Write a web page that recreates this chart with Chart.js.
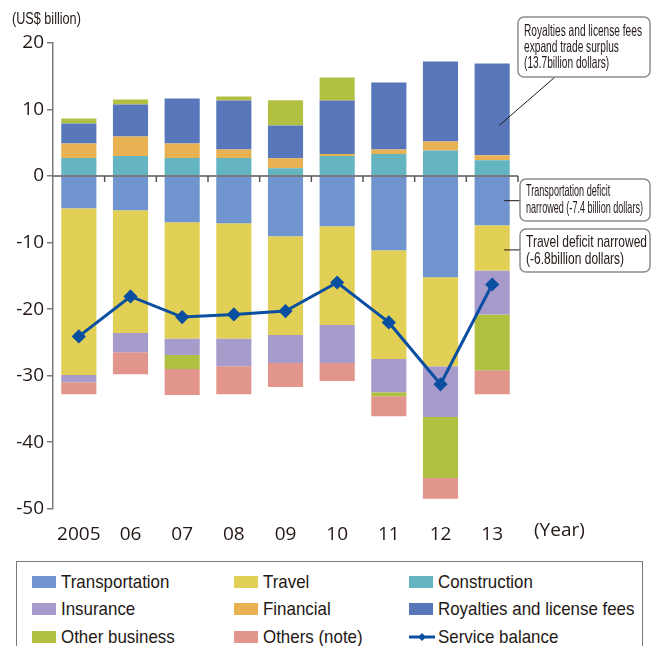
<!DOCTYPE html>
<html>
<head>
<meta charset="utf-8">
<script src="https://cdn.jsdelivr.net/npm/chart.js@4.4.0/dist/chart.umd.min.js"></script>
<style>
  body { margin: 0; background: #fff; }
  #wrap { position: relative; width: 654px; height: 646px; overflow: hidden; }
  #chart { position: absolute; left: 0; top: 0; }
  #legend {
    position: absolute; left: 16px; top: 561px; width: 627px; height: 100px;
    border: 1px solid #7a7a7a; box-sizing: border-box;
    font-family: 'Liberation Sans', sans-serif;
    font-size: 19px; color: #231815;
  }
  .item { position: absolute; display: flex; align-items: center; height: 20px; white-space: nowrap; }
  .sw { width: 24px; height: 12px; margin-right: 5px; flex: none; }
  .txt { display: inline-block; transform: scaleX(0.89); transform-origin: left center; }
</style>
</head>
<body>
<div id="wrap">
  <canvas id="chart" width="654" height="556"></canvas>
  <div id="legend"></div>
</div>
<script>
// values in US$ billion
const years = ['2005', '06', '07', '08', '09', '10', '11', '12', '13'];
const transportation = [-4.85, -5.15, -6.95, -7.1, -9.05, -7.55, -11.15, -15.2, -7.4];
const travel = [-25.05, -18.45, -17.45, -17.3, -14.85, -14.85, -16.35, -13.4, -6.8];
const construction = [2.7, 3.0, 2.7, 2.7, 1.16, 3.0, 3.3, 3.86, 2.36];
const insurance = [-1.1, -2.9, -2.5, -4.2, -4.2, -5.7, -5.0, -7.6, -6.6];
const financial = [2.2, 2.96, 2.2, 1.3, 1.5, 0.3, 0.7, 1.35, 0.75];
const royalties = [3.0, 4.8, 6.77, 7.37, 4.95, 8.07, 10.07, 12.0, 13.8];
const otherBusiness = [0.75, 0.75, -2.1, 0.6, 3.77, 3.45, -0.6, -9.2, -8.4];
const others = [-1.8, -3.3, -3.9, -4.2, -3.6, -2.7, -3.0, -3.1, -3.6];
const serviceBalance = [-24.1, -18.1, -21.2, -20.8, -20.3, -16.0, -22.0, -31.3, -16.3];

const colors = {
  transportation: '#7094cd',
  travel: '#e2cf55',
  construction: '#64b5c1',
  insurance: '#a79bcb',
  financial: '#e8b252',
  royalties: '#5877bb',
  otherBusiness: '#b2c042',
  others: '#e2958a',
  balance: '#0b4fa0'
};

const textFont = "'Liberation Sans', sans-serif";
const tickFont = "'Open Sans', sans-serif";

function bar(label, data, color) {
  return { type: 'bar', label, data, backgroundColor: color, order: 1, stack: 'services' };
}

const datasets = [
  bar('Transportation', transportation, colors.transportation),
  bar('Travel', travel, colors.travel),
  bar('Construction', construction, colors.construction),
  bar('Insurance', insurance, colors.insurance),
  bar('Financial', financial, colors.financial),
  bar('Royalties and license fees', royalties, colors.royalties),
  bar('Other business', otherBusiness, colors.otherBusiness),
  bar('Others (note)', others, colors.others),
  {
    type: 'line', label: 'Service balance', data: serviceBalance, stack: 'balance', order: 0,
    borderColor: colors.balance, backgroundColor: colors.balance, borderWidth: 3,
    pointStyle: 'rectRot', pointRadius: 5, pointHoverRadius: 5, tension: 0
  }
];

// condensed text: squeeze horizontally
function narrowText(ctx, text, x, y, sx) {
  ctx.save();
  ctx.translate(x, y);
  ctx.scale(sx, 1);
  ctx.fillText(text, 0, 0);
  ctx.restore();
}

// axis at zero, labels and callout boxes
const decor = {
  id: 'decor',
  afterDatasetsDraw(chart) {
    const { ctx, chartArea, scales: { x, y } } = chart;
    const y0 = y.getPixelForValue(0);
    ctx.save();
    ctx.strokeStyle = '#595757';
    ctx.lineWidth = 1.5;
    ctx.beginPath();
    ctx.moveTo(chartArea.left, y0);
    ctx.lineTo(chartArea.right, y0);
    for (let i = 1; i <= years.length; i++) {
      const px = i === years.length ? chartArea.right
        : (x.getPixelForValue(i - 1) + x.getPixelForValue(i)) / 2;
      ctx.moveTo(px, y0);
      ctx.lineTo(px, y0 + 6);
    }
    ctx.stroke();
    ctx.restore();
  },
  afterDraw(chart) {
    const { ctx, scales: { x, y } } = chart;
    ctx.save();
    ctx.fillStyle = '#231815';
    ctx.textBaseline = 'middle';
    ctx.font = '16px ' + textFont;
    narrowText(ctx, '(US$ billion)', 12, 20, 0.79);
    ctx.font = '19px ' + tickFont;
    ctx.fillText('(Year)', 534, 531);

    const last = years.length - 1;
    const bx = x.getPixelForValue(last) + 12;

    const boxes = [
      { x: 518, y: 17, w: 132, h: 60, size: 16.5, fit: 118, lh: 16,
        lines: ['Royalties and license fees', 'expand trade surplus', '(13.7billion dollars)'],
        from: [555, 77], to: [bx - 5, y.getPixelForValue(7.6)] },
      { x: 520, y: 179, w: 130, h: 42, size: 16.5, fit: 117, lh: 17,
        lines: ['Transportation deficit', 'narrowed (-7.4 billion dollars)'],
        from: [520, y.getPixelForValue(-3.7)], to: [bx, y.getPixelForValue(-3.7)] },
      { x: 520, y: 229, w: 130, h: 43, size: 17, fit: 121, lh: 17,
        lines: ['Travel deficit narrowed', '(-6.8billion dollars)'],
        from: [520, y.getPixelForValue(-11.1)], to: [bx, y.getPixelForValue(-11.1)] }
    ];
    boxes.forEach(b => {
      ctx.strokeStyle = '#231815';
      ctx.lineWidth = 1;
      ctx.beginPath();
      ctx.moveTo(b.from[0], b.from[1]);
      ctx.lineTo(b.to[0], b.to[1]);
      ctx.stroke();
      ctx.fillStyle = '#fff';
      ctx.strokeStyle = '#8c8c8c';
      ctx.lineWidth = 1.5;
      ctx.beginPath();
      ctx.roundRect(b.x, b.y, b.w, b.h, 6);
      ctx.fill();
      ctx.stroke();
      ctx.fillStyle = '#231815';
      ctx.font = b.size + 'px ' + textFont;
      const widest = Math.max(...b.lines.map(t => ctx.measureText(t).width));
      const sx = b.fit / widest;
      const start = b.y + b.h / 2 - (b.lines.length - 1) * b.lh / 2;
      b.lines.forEach((t, i) => narrowText(ctx, t, b.x + 6, start + i * b.lh, sx));
    });
    ctx.restore();
  }
};

new Chart(document.getElementById('chart'), {
  data: { labels: years, datasets },
  options: {
    responsive: false,
    animation: false,
    layout: { padding: { left: 0, top: 43, right: 136, bottom: 0 } },
    datasets: { bar: { categoryPercentage: 1, barPercentage: 0.68 } },
    plugins: { legend: { display: false }, tooltip: { enabled: false } },
    scales: {
      x: {
        stacked: true,
        grid: { display: false },
        border: { display: false },
        ticks: { color: '#231815', font: { family: tickFont, size: 19 }, padding: 6 },
        afterFit(scale) { scale.height = 47.3; }
      },
      y: {
        stacked: true,
        min: -50, max: 20,
        ticks: { stepSize: 10, color: '#231815', font: { family: tickFont, size: 19 }, padding: 3 },
        grid: { drawOnChartArea: false, tickLength: 6, color: '#7a7a7a', lineWidth: 1.5 },
        border: { color: '#7a7a7a', width: 1.5 },
        afterFit(scale) { scale.width = 53; }
      }
    }
  },
  plugins: [decor]
});

// html legend in three columns
const legendItems = [
  ['Transportation', colors.transportation], ['Travel', colors.travel], ['Construction', colors.construction],
  ['Insurance', colors.insurance], ['Financial', colors.financial], ['Royalties and license fees', colors.royalties],
  ['Other business', colors.otherBusiness], ['Others (note)', colors.others], ['Service balance', null]
];
const colX = [15, 217, 392];
const rowY = [10, 37, 65];
const legend = document.getElementById('legend');
legendItems.forEach((it, i) => {
  const d = document.createElement('div');
  d.className = 'item';
  d.style.left = colX[i % 3] + 'px';
  d.style.top = rowY[Math.floor(i / 3)] + 'px';
  const label = '<span class="txt">' + it[0] + '</span>';
  if (it[1]) {
    d.innerHTML = '<span class="sw" style="background:' + it[1] + '"></span>' + label;
  } else {
    d.innerHTML = '<svg width="26" height="14" style="margin-right:3px;flex:none"><line x1="0" y1="7" x2="26" y2="7" stroke="' +
      colors.balance + '" stroke-width="3"/><polygon points="13,3 17,7 13,11 9,7" fill="' + colors.balance + '"/></svg>' + label;
  }
  legend.appendChild(d);
});
</script>
</body>
</html>
